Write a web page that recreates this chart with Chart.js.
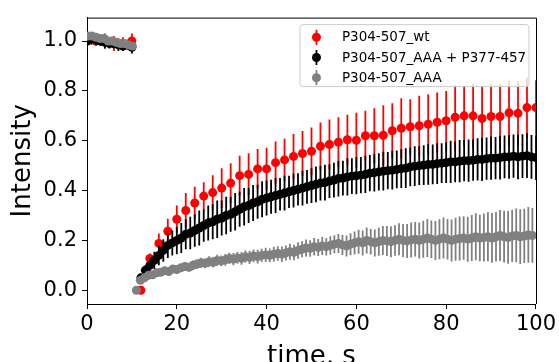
<!DOCTYPE html>
<html>
<head>
<meta charset="utf-8">
<script src="https://cdn.jsdelivr.net/npm/chart.js@4.4.1/dist/chart.umd.min.js"></script>
<style>
  html, body { margin: 0; padding: 0; background: #fff; }
  #c { display: block; }
</style>
</head>
<body>
<canvas id="c" width="559" height="362"></canvas>
<script>
// ---------------- data ----------------
const seriesLabels = ["P304-507_wt", "P304-507_AAA + P377-457", "P304-507_AAA"];
const xTicks = [0, 20, 40, 60, 80, 100];
const yTicks = [0.0, 0.2, 0.4, 0.6, 0.8, 1.0];

// P304-507_wt (red)
const wtTime = [0,2,4,6,8,10,12,14,16,18,20,22,24,26,28,30,32,34,36,38,40,42,44,46,48,50,52,54,56,58,60,62,64,66,68,70,72,74,76,78,80,82,84,86,88,90,92,94,96,98,100];
const wtMean = [1.0,1.0,1.0,0.99,0.99,1.0,
  0.0,0.128,0.188,0.237,0.285,0.32,0.35,0.378,0.392,0.41,0.43,0.46,0.465,0.487,0.487,0.512,0.523,0.537,0.549,0.558,0.578,0.585,0.594,0.604,0.602,0.62,0.62,0.622,0.64,0.65,0.656,0.66,0.666,0.674,0.68,0.694,0.70,0.70,0.689,0.697,0.697,0.712,0.71,0.733,0.733];
const wtErr = [0.02,0.02,0.03,0.03,0.025,0.03,
  0.0,0.02,0.04,0.05,0.055,0.07,0.065,0.055,0.07,0.08,0.08,0.08,0.085,0.08,0.085,0.085,0.085,0.09,0.09,0.095,0.095,0.1,0.1,0.1,0.11,0.1,0.11,0.12,0.11,0.12,0.11,0.12,0.12,0.12,0.12,0.13,0.12,0.13,0.13,0.13,0.13,0.13,0.13,0.12,0.11];

// P304-507_AAA + P377-457 (black)
const aaaPTime = [0,1,2,3,4,5,6,7,8,9,10,
  12,13,14,15,16,17,18,19,20,21,22,23,24,25,26,27,28,29,30,31,32,33,34,35,36,37,38,39,40,41,42,43,44,45,46,47,48,49,50,51,52,53,54,55,56,57,58,59,60,61,62,63,64,65,66,67,68,69,70,71,72,73,74,75,76,77,78,79,80,81,82,83,84,85,86,87,88,89,90,91,92,93,94,95,96,97,98,99,100];
const aaaPMean = [1.0,1.01,1.005,1.0,0.995,0.99,0.99,0.985,0.98,0.985,0.975,
  0.05,0.08,0.10,0.12,0.14,0.16,0.18,0.19,0.20,0.21,0.225,0.23,0.24,0.25,0.26,0.27,0.275,0.285,0.29,0.30,0.305,0.315,0.325,0.335,0.34,0.35,0.355,0.365,0.37,0.375,0.38,0.385,0.39,0.395,0.40,0.405,0.41,0.415,0.42,0.425,0.43,0.432,0.438,0.442,0.448,0.45,0.455,0.458,0.46,0.462,0.465,0.47,0.472,0.475,0.478,0.48,0.482,0.485,0.488,0.49,0.495,0.498,0.50,0.502,0.505,0.505,0.508,0.51,0.512,0.515,0.515,0.518,0.52,0.52,0.522,0.525,0.525,0.528,0.53,0.53,0.532,0.535,0.535,0.538,0.535,0.538,0.54,0.535,0.532];
const aaaPErr = [0.02,0.025,0.02,0.02,0.025,0.02,0.02,0.025,0.02,0.02,0.025,
  0.01,0.02,0.03,0.035,0.04,0.045,0.05,0.05,0.055,0.06,0.06,0.065,0.065,0.07,0.065,0.07,0.07,0.075,0.07,0.075,0.07,0.075,0.07,0.075,0.07,0.072,0.068,0.072,0.07,0.068,0.07,0.065,0.07,0.065,0.068,0.065,0.07,0.068,0.07,0.072,0.07,0.072,0.068,0.07,0.072,0.07,0.075,0.072,0.075,0.073,0.075,0.073,0.076,0.075,0.078,0.075,0.078,0.076,0.078,0.08,0.078,0.08,0.078,0.08,0.082,0.08,0.082,0.08,0.082,0.085,0.082,0.085,0.083,0.085,0.083,0.085,0.087,0.085,0.087,0.085,0.088,0.086,0.088,0.087,0.09,0.088,0.09,0.088,0.09];

// P304-507_AAA (grey)
const aaaTime = [0.2,1.1,2.0,2.9,3.8,4.7,5.6,6.5,7.4,8.3,9.2,10.1,
  11.0,11.9,12.8,13.7,14.6,15.5,16.4,17.3,18.2,19.1,20.0,20.9,21.8,22.7,23.6,24.5,25.4,26.3,27.2,28.1,29.0,29.9,30.8,31.7,32.6,33.5,34.4,35.3,36.2,37.1,38.0,38.9,39.8,40.7,41.6,42.5,43.4,44.3,45.2,46.1,47.0,47.9,48.8,49.7,50.6,51.5,52.4,53.3,54.2,55.1,56.0,56.9,57.8,58.7,59.6,60.5,61.4,62.3,63.2,64.1,65.0,65.9,66.8,67.7,68.6,69.5,70.4,71.3,72.2,73.1,74.0,74.9,75.8,76.7,77.6,78.5,79.4,80.3,81.2,82.1,83.0,83.9,84.8,85.7,86.6,87.5,88.4,89.3,90.2,91.1,92.0,92.9,93.8,94.7,95.6,96.5,97.4,98.3,99.2];
const aaaMean = [1.02,1.02,1.015,1.01,1.01,1.0,1.0,0.995,0.99,0.99,0.985,0.98,
  0.0,0.04,0.05,0.06,0.062,0.07,0.072,0.078,0.075,0.085,0.083,0.09,0.095,0.092,0.1,0.105,0.11,0.108,0.115,0.112,0.12,0.118,0.122,0.128,0.125,0.13,0.128,0.135,0.132,0.138,0.135,0.14,0.142,0.14,0.145,0.148,0.145,0.15,0.155,0.152,0.16,0.165,0.17,0.168,0.175,0.172,0.178,0.175,0.18,0.185,0.188,0.182,0.178,0.185,0.19,0.195,0.19,0.2,0.195,0.19,0.195,0.2,0.198,0.195,0.2,0.205,0.2,0.198,0.202,0.205,0.2,0.205,0.21,0.205,0.2,0.205,0.21,0.205,0.2,0.205,0.208,0.21,0.205,0.21,0.215,0.21,0.212,0.215,0.21,0.215,0.22,0.215,0.212,0.218,0.22,0.215,0.218,0.222,0.22];
const aaaErr = [0.015,0.012,0.015,0.01,0.015,0.012,0.015,0.01,0.012,0.015,0.012,0.015,
  0.0,0.005,0.008,0.01,0.01,0.012,0.012,0.014,0.013,0.015,0.016,0.015,0.018,0.017,0.02,0.019,0.021,0.02,0.022,0.021,0.023,0.022,0.024,0.023,0.025,0.024,0.026,0.025,0.027,0.026,0.028,0.027,0.029,0.028,0.03,0.029,0.031,0.03,0.032,0.031,0.033,0.032,0.034,0.033,0.035,0.034,0.036,0.035,0.037,0.036,0.038,0.04,0.042,0.044,0.046,0.048,0.05,0.052,0.051,0.054,0.056,0.058,0.06,0.062,0.061,0.064,0.066,0.068,0.07,0.069,0.072,0.074,0.076,0.075,0.078,0.08,0.082,0.081,0.084,0.086,0.088,0.087,0.09,0.092,0.094,0.093,0.096,0.098,0.1,0.099,0.102,0.104,0.106,0.105,0.108,0.11,0.109,0.112,0.11];

const seriesColors = ["#ff0000", "#000000", "#808080"];

// -------------- build ----------------
function pts(t, m, e) {
  const n = Math.min(t.length, m.length, e.length);
  const out = [];
  for (let i = 0; i < n; i++) out.push({ x: t[i], y: m[i], e: e[i] });
  return out;
}

const FONT = "'DejaVu Sans', 'Liberation Sans', sans-serif";
Chart.defaults.font.family = FONT;
Chart.defaults.color = "#000";

const errorBars = {
  id: "errorBars",
  beforeDatasetDraw(chart, args) {
    const ds = chart.data.datasets[args.index];
    const xs = chart.scales.x, ys = chart.scales.y, a = chart.chartArea;
    const ctx = chart.ctx;
    ctx.save();
    ctx.beginPath();
    ctx.rect(a.left, a.top, a.right - a.left, a.bottom - a.top);
    ctx.clip();
    ctx.strokeStyle = ds.backgroundColor;
    ctx.lineWidth = ds.errWidth;
    ctx.beginPath();
    ds.data.forEach(p => {
      const x = xs.getPixelForValue(p.x);
      ctx.moveTo(x, ys.getPixelForValue(p.y - p.e));
      ctx.lineTo(x, ys.getPixelForValue(p.y + p.e));
    });
    ctx.stroke();
    ctx.restore();
  }
};

const frameAndLegend = {
  id: "frameAndLegend",
  afterDraw(chart) {
    const ctx = chart.ctx, a = chart.chartArea;
    ctx.save();
    // top & right spines
    ctx.strokeStyle = "#000";
    ctx.lineWidth = 1;
    ctx.beginPath();
    ctx.moveTo(a.left, a.top + 0.5);
    ctx.lineTo(Math.round(a.right) + 0.5, a.top + 0.5);
    ctx.lineTo(Math.round(a.right) + 0.5, a.bottom);
    ctx.stroke();

    // legend box
    const bx = a.right - 236, by = a.top + 7, bw = 229, bh = 62, r = 3;
    ctx.beginPath();
    ctx.moveTo(bx + r, by);
    ctx.lineTo(bx + bw - r, by); ctx.quadraticCurveTo(bx + bw, by, bx + bw, by + r);
    ctx.lineTo(bx + bw, by + bh - r); ctx.quadraticCurveTo(bx + bw, by + bh, bx + bw - r, by + bh);
    ctx.lineTo(bx + r, by + bh); ctx.quadraticCurveTo(bx, by + bh, bx, by + bh - r);
    ctx.lineTo(bx, by + r); ctx.quadraticCurveTo(bx, by, bx + r, by);
    ctx.closePath();
    ctx.fillStyle = "rgba(255,255,255,0.8)";
    ctx.fill();
    ctx.strokeStyle = "#cccccc";
    ctx.stroke();

    ctx.font = "13.5px " + FONT;
    ctx.textBaseline = "middle";
    ctx.textAlign = "left";
    chart.data.datasets.forEach((ds, i) => {
      const cy = by + 12.7 + i * 20.2;
      const mx = bx + 16.5;
      ctx.strokeStyle = ds.backgroundColor;
      ctx.lineWidth = 1.8;
      ctx.beginPath();
      ctx.moveTo(mx, cy - 7.5); ctx.lineTo(mx, cy + 7.5);
      ctx.stroke();
      ctx.fillStyle = ds.backgroundColor;
      ctx.beginPath();
      ctx.arc(mx, cy, 4.5, 0, Math.PI * 2);
      ctx.fill();
      ctx.fillStyle = "#000";
      ctx.fillText(ds.label, bx + 42, cy + 0.5);
    });
    ctx.restore();
  }
};

function mkDataset(i, t, m, e, order) {
  return {
    label: seriesLabels[i],
    data: pts(t, m, e),
    backgroundColor: seriesColors[i],
    borderColor: seriesColors[i],
    pointBackgroundColor: seriesColors[i],
    pointBorderWidth: 0,
    pointRadius: 4.5,
    pointHoverRadius: 4.5,
    showLine: false,
    errWidth: 1.8,
    order: order,
    clip: 0
  };
}

new Chart(document.getElementById("c"), {
  type: "scatter",
  data: {
    datasets: [
      mkDataset(0, wtTime, wtMean, wtErr, 3),
      mkDataset(1, aaaPTime, aaaPMean, aaaPErr, 2),
      mkDataset(2, aaaTime, aaaMean, aaaErr, 1)
    ]
  },
  options: {
    responsive: false,
    devicePixelRatio: 1,
    animation: false,
    events: [],
    layout: { padding: { left: 0, right: 22, top: 11, bottom: 0 } },
    plugins: { legend: { display: false }, tooltip: { enabled: false } },
    scales: {
      x: {
        type: "linear",
        min: 0, max: 100,
        afterFit(s) { s.height = 58; },
        afterBuildTicks(s) { s.ticks = xTicks.map(v => ({ value: v })); },
        grid: { drawOnChartArea: false, drawTicks: true, tickLength: 5, tickColor: "#000", tickWidth: 1 },
        border: { display: true, color: "#000", width: 1 },
        ticks: { font: { size: 21 }, color: "#000", padding: 3, maxRotation: 0, callback: v => String(v) },
        title: { display: true, text: "time, s", font: { size: 26 }, color: "#000", padding: { top: 0, bottom: -11 } }
      },
      y: {
        type: "linear",
        min: -0.055, max: 1.094,
        afterFit(s) { s.width = 87; },
        afterBuildTicks(s) { s.ticks = yTicks.map(v => ({ value: v })); },
        grid: { drawOnChartArea: false, drawTicks: true, tickLength: 5, tickColor: "#000", tickWidth: 1 },
        border: { display: true, color: "#000", width: 1 },
        ticks: { font: { size: 21 }, color: "#000", padding: 5, callback: v => Number(v).toFixed(1) },
        title: { display: true, text: "Intensity", font: { size: 26 }, color: "#000", padding: { top: 8, bottom: 0 } }
      }
    }
  },
  plugins: [errorBars, frameAndLegend]
});
</script>
</body>
</html>
